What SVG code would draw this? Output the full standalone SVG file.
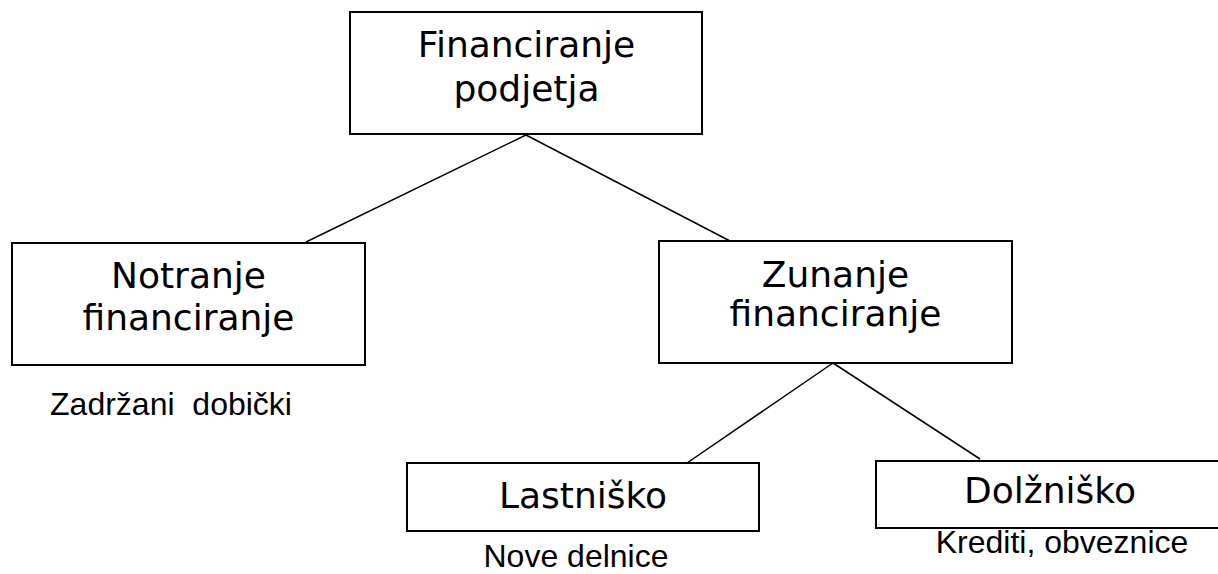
<svg xmlns="http://www.w3.org/2000/svg" width="1218" height="574" viewBox="0 0 1218 574">
<style>
.box{fill:#fff;stroke:#000;stroke-width:2}
.lbl{font-family:"DejaVu Sans",Verdana,sans-serif;font-size:36px;fill:#000;text-anchor:middle}
.note{font-family:"Liberation Sans",Arial,sans-serif;font-size:32px;fill:#000;text-anchor:middle}
.con{stroke:#000;stroke-width:1.5;fill:none}
</style>
<rect width="1218" height="574" fill="#fff"/>
<g id="connectors">
<line class="con" x1="526" y1="135" x2="306" y2="242"/>
<line class="con" x1="526" y1="135" x2="730" y2="241"/>
<line class="con" x1="833" y1="363" x2="687" y2="463"/>
<line class="con" x1="833" y1="363" x2="980" y2="459"/>
</g>
<g id="n-financiranje">
<rect class="box" x="350" y="12" width="352" height="122"/>
<text class="lbl" x="526.5" y="57">Financiranje</text>
<text class="lbl" x="526.5" y="101">podjetja</text>
</g>
<g id="n-notranje">
<rect class="box" x="12" y="243" width="353" height="122"/>
<text class="lbl" x="188.5" y="288">Notranje</text>
<text class="lbl" x="188.5" y="330">financiranje</text>
</g>
<g id="t-zadrzani">
<text class="note" x="171" y="415" xml:space="preserve">Zadržani  dobički</text>
</g>
<g id="n-zunanje">
<rect class="box" x="659" y="241" width="353" height="122"/>
<text class="lbl" x="835.5" y="287">Zunanje</text>
<text class="lbl" x="835.5" y="326">financiranje</text>
</g>
<g id="n-lastnisko">
<rect class="box" x="407" y="463" width="352" height="68"/>
<text class="lbl" x="583" y="508">Lastniško</text>
</g>
<g id="t-nove">
<text class="note" x="576" y="567">Nove delnice</text>
</g>
<g id="n-dolznisko">
<rect class="box" x="876" y="461" width="352" height="67"/>
<text class="lbl" x="1050" y="503">Dolžniško</text>
</g>
<g id="t-krediti">
<text class="note" x="1062" y="553">Krediti, obveznice</text>
</g>
</svg>
